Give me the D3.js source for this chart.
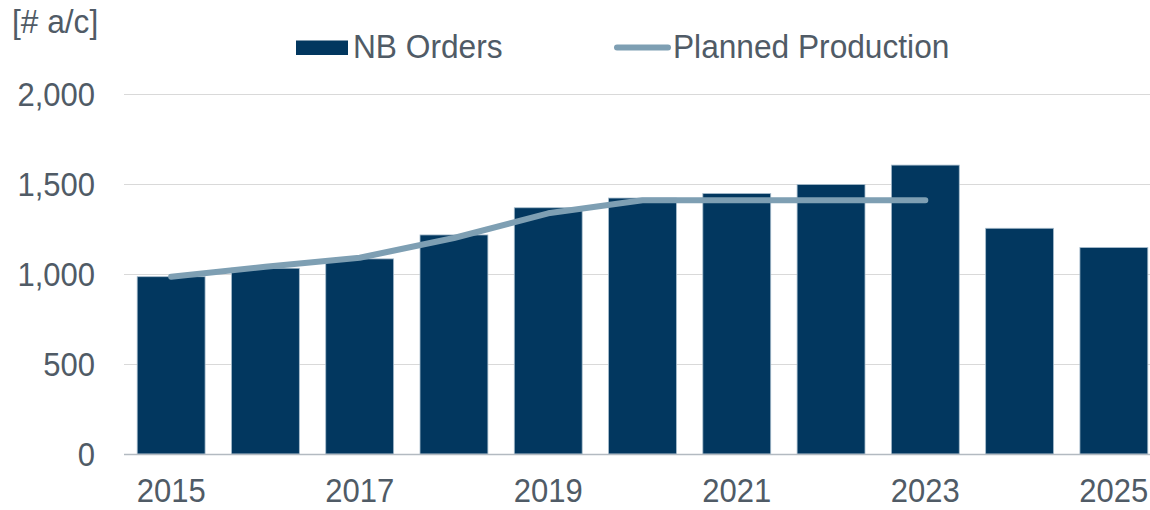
<!DOCTYPE html>
<html>
<head>
<meta charset="utf-8">
<script src="https://cdn.jsdelivr.net/npm/d3@7"></script>
<style>
	body { margin: 0; background: #fff; }
	text { font-family: "Liberation Sans", Arial, sans-serif; fill: #505b66; font-size: 33px; }
</style>
</head>
<body>
<div id="chart"></div>
<script>
// chart data
const years = [2015, 2016, 2017, 2018, 2019, 2020, 2021, 2022, 2023, 2024, 2025];
const nbOrders = [985, 1032, 1084, 1217, 1368, 1422, 1447, 1497, 1605, 1254, 1147];
const plannedYears = [2015, 2016, 2017, 2018, 2019, 2020, 2021, 2022, 2023];
const plannedProduction = [985, 1040, 1090, 1200, 1337, 1410, 1410, 1410, 1410];
const yTicks = [0, 500, 1000, 1500, 2000];
const xTickLabels = [2015, 2017, 2019, 2021, 2023, 2025];

const width = 1150, height = 510;
const barColor = '#02375f';
const lineColor = '#7e9fb3';
// the original font runs a bit narrower than Liberation Sans
const squeeze = 0.94;
const legendSqueeze = 0.96;

const svg = d3.select('#chart')
	.append('svg')
	.attr('width', width)
	.attr('height', height);

const x = d3.scaleBand()
	.domain(years)
	.range([124, 1161])
	.paddingInner(0.28)
	.paddingOuter(0.14);

const y = d3.scaleLinear()
	.domain([0, 2000])
	.range([454, 94]);

const place = (px, py, s = squeeze) => `translate(${px},${py}) scale(${s},1)`;

// gridlines
svg.append('g')
	.selectAll('line')
	.data(yTicks.filter(d => d > 0))
	.join('line')
	.attr('x1', 124)
	.attr('x2', width)
	.attr('y1', d => y(d) + 0.5)
	.attr('y2', d => y(d) + 0.5)
	.attr('stroke', '#d9d9d9')
	.attr('stroke-width', 1.2);

// y tick labels
svg.append('g')
	.selectAll('text')
	.data(yTicks)
	.join('text')
	.attr('transform', d => place(95, y(d) + 12))
	.attr('text-anchor', 'end')
	.text(d => d3.format(',')(d));

// bars
svg.append('g')
	.selectAll('rect')
	.data(years.map((yr, i) => ({ year: yr, value: nbOrders[i] })))
	.join('rect')
	.attr('x', d => x(d.year))
	.attr('y', d => y(d.value))
	.attr('width', x.bandwidth())
	.attr('height', d => y(0) - y(d.value))
	.attr('fill', barColor)
	.attr('stroke', '#a7bccc')
	.attr('stroke-width', 0.8);

// baseline
svg.append('line')
	.attr('x1', 124)
	.attr('x2', width)
	.attr('y1', y(0) + 0.5)
	.attr('y2', y(0) + 0.5)
	.attr('stroke', '#b3bac1')
	.attr('stroke-width', 1.5);

// planned production line
const line = d3.line()
	.x(d => x(d.year) + x.bandwidth() / 2)
	.y(d => y(d.value));

svg.append('path')
	.datum(plannedYears.map((yr, i) => ({ year: yr, value: plannedProduction[i] })))
	.attr('d', line)
	.attr('fill', 'none')
	.attr('stroke', lineColor)
	.attr('stroke-width', 6)
	.attr('stroke-linecap', 'round')
	.attr('stroke-linejoin', 'round');

// x tick labels
svg.append('g')
	.selectAll('text')
	.data(xTickLabels)
	.join('text')
	.attr('transform', d => place(x(d) + x.bandwidth() / 2, 502))
	.attr('text-anchor', 'middle')
	.text(d => d);

// unit label
svg.append('text')
	.attr('transform', place(12, 33, legendSqueeze))
	.text('[# a/c]');

// legend
const legend = svg.append('g');
legend.append('rect')
	.attr('x', 296)
	.attr('y', 40.5)
	.attr('width', 52)
	.attr('height', 14.5)
	.attr('fill', barColor);
legend.append('text')
	.attr('transform', place(353, 58, legendSqueeze))
	.text('NB Orders');
legend.append('line')
	.attr('x1', 617)
	.attr('x2', 668)
	.attr('y1', 47.5)
	.attr('y2', 47.5)
	.attr('stroke', lineColor)
	.attr('stroke-width', 6)
	.attr('stroke-linecap', 'round');
legend.append('text')
	.attr('transform', place(673, 58, legendSqueeze))
	.text('Planned Production');
</script>
</body>
</html>
